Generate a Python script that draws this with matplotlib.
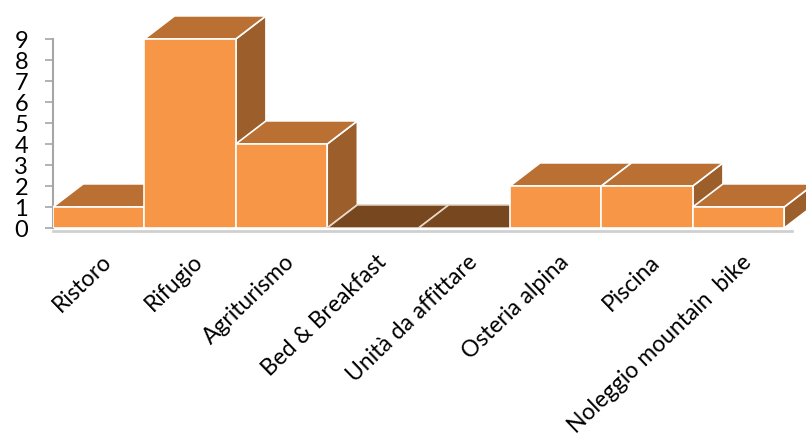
import matplotlib
matplotlib.use('Agg')
import matplotlib.pyplot as plt
from matplotlib.patches import Polygon
import matplotlib.transforms as mtransforms

plt.rcParams['font.family'] = ['Lato', 'DejaVu Sans']

categories = ['Ristoro', 'Rifugio', 'Agriturismo', 'Bed & Breakfast',
              'Unità da affittare', 'Osteria alpina', 'Piscina',
              'Noleggio mountain  bike']
values = [1, 9, 4, 0, 0, 2, 2, 1]
yticks = list(range(10))

front_col = '#F79646'
top_col = '#BA6F33'
side_col = '#9C5E2A'
flat_col = '#774720'

# depth of the 3d effect in data units (about 30 px right, 23 px up)
dx = 0.33
dy = 1.1

fig = plt.figure(figsize=(8.06, 4.40), dpi=100)
ax = fig.add_axes([53 / 806, (440 - 228) / 440, 753 / 806, 218 / 440])
ax.set_xlim(0, 753 / 91.4)
ax.set_ylim(0, 218 / 21.0)

for i, v in enumerate(values):
    x0, x1 = i, i + 1
    if v > 0:
        side = [(x1, 0), (x1 + dx, dy), (x1 + dx, v + dy), (x1, v)]
        ax.add_patch(Polygon(side, closed=True, fc=side_col, ec='white', lw=1.2, zorder=3))
        top = [(x0, v), (x0 + dx, v + dy), (x1 + dx, v + dy), (x1, v)]
        ax.add_patch(Polygon(top, closed=True, fc=top_col, ec='white', lw=1.2, zorder=3))
        ax.add_patch(Polygon([(x0, 0), (x0, v), (x1, v), (x1, 0)], closed=True,
                             fc=front_col, ec='white', lw=1.2, zorder=3))
    else:
        top = [(x0, 0), (x0 + dx, dy), (x1 + dx, dy), (x1, 0)]
        ax.add_patch(Polygon(top, closed=True, fc=flat_col, ec='#E8D8C8', lw=1.2, zorder=3))

# axes styling
for s in ['top', 'right']:
    ax.spines[s].set_visible(False)
ax.spines['left'].set_bounds(0, 9)
ax.spines['left'].set_color('#A6A6A6')
ax.spines['left'].set_linewidth(1.5)
ax.spines['bottom'].set_bounds(0, len(values) + 0.08)
ax.spines['bottom'].set_color('#D0D0D0')
ax.spines['bottom'].set_linewidth(2)
ax.spines['bottom'].set_position(('outward', 2))

ax.set_yticks(yticks)
ax.set_yticklabels([str(t) for t in yticks], fontsize=17)
ax.tick_params(axis='y', direction='out', length=6, width=1.2, color='#A6A6A6', pad=12)

ax.set_xticks([i + 0.5 for i in range(len(categories))])
ax.set_xticklabels(categories, rotation=44, ha='right', va='center',
                   rotation_mode='anchor', fontsize=16.5)
ax.tick_params(axis='x', length=0, pad=20)
offset = mtransforms.ScaledTranslation(7 / 72, 0, fig.dpi_scale_trans)
for lab in ax.get_xticklabels():
    lab.set_transform(lab.get_transform() + offset)

plt.savefig('out.png', dpi=100)
